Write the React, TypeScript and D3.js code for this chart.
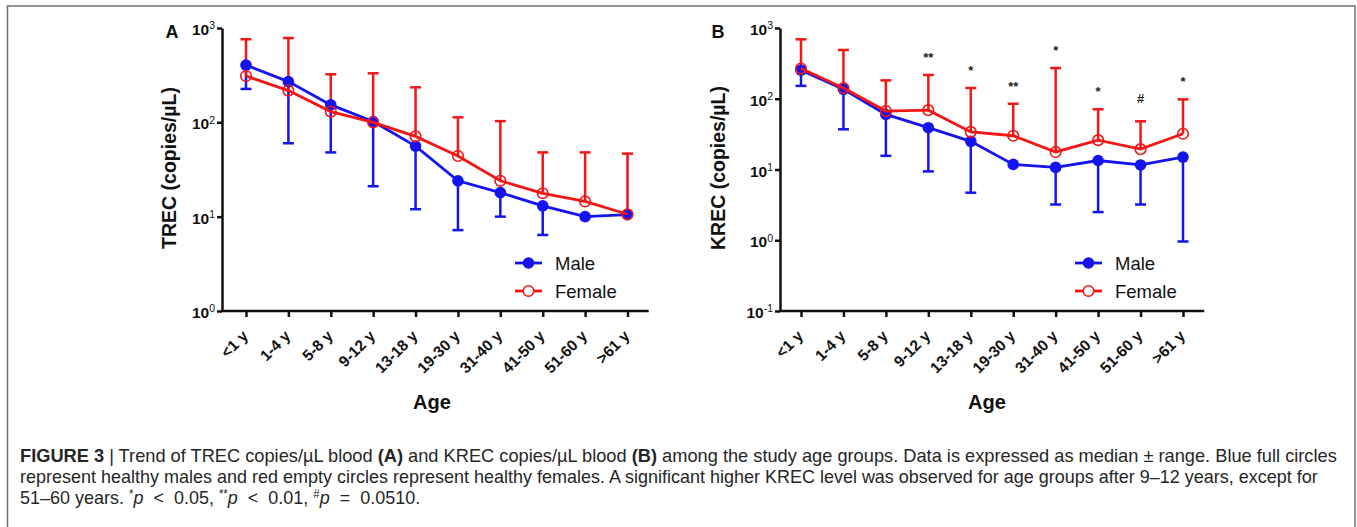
import React, { useEffect, useRef } from 'react';
import * as d3 from 'd3';

// age groups (x categories)
const ages = ['<1 y', '1-4 y', '5-8 y', '9-12 y', '13-18 y', '19-30 y', '31-40 y', '41-50 y', '51-60 y', '>61 y'];

// panel A: TREC copies/uL (median, lower range for male, upper range for female)
const trecMale = [405, 270, 153, 102, 56, 24, 18, 13, 10, 10.5];
const trecMaleMin = [226, 60, 48, 21, 12, 7.2, 10, 6.4, 10, 10.5];
const trecFemale = [310, 217, 130, 100, 71, 44, 24, 17.7, 14.5, 10.6];
const trecFemaleMax = [760, 783, 323, 331, 235, 113, 103, 48, 48, 46.6];

// panel B: KREC copies/uL
const krecMale = [253, 136, 60, 39, 25, 11.8, 10.7, 13.4, 11.6, 15];
const krecMaleMin = [152, 37, 15.6, 9.4, 4.7, 11.8, 3.2, 2.5, 3.2, 0.96];
const krecFemale = [267, 142, 67, 69, 34, 30, 17.7, 26, 19.4, 32];
const krecFemaleMax = [692, 489, 182, 217, 142, 85, 272, 71, 48, 98];
const krecSig = ['', '', '', '**', '*', '**', '*', '*', '#', '*'];

const trecTicks = [1, 10, 100, 1000];
const krecTicks = [0.1, 1, 10, 100, 1000];

// caption lines, as runs of [text, style]
const captionLines: [string, string][][] = [
    [['FIGURE 3', 'b'], [' | Trend of TREC copies/\u00b5L blood ', ''], ['(A)', 'b'],
     [' and KREC copies/\u00b5L blood ', ''], ['(B)', 'b'],
     [' among the study age groups. Data is expressed as median \u00b1 range. Blue full circles', '']],
    [['represent healthy males and red empty circles represent healthy females. A significant higher KREC level was observed for age groups after 9\u201312 years, except for', '']],
    [['51\u201360 years. ', ''], ['*', 'sup'], ['p', 'i'], ['  <  0.05, ', ''], ['**', 'sup'], ['p', 'i'],
     ['  <  0.01, ', ''], ['#', 'sup'], ['p', 'i'], ['  =  0.0510.', '']]
];

const BLUE = '#1414ee';
const RED = '#f21616';
const FONT = 'Arial, "Liberation Sans", Helvetica, sans-serif';

export default function App() {
    const svgRef = useRef<SVGSVGElement | null>(null);

    useEffect(() => {
        const svg = d3.select(svgRef.current);
        svg.selectAll('*').remove();

        // figure frame
        svg.append('path')
            .attr('d', 'M7.5,527 V6 H1355 V527')
            .attr('fill', 'none')
            .attr('stroke', '#6f6f6f')
            .attr('stroke-width', 1.5);

        const drawPanel = (cfg: any) => {
            const g = svg.append('g').style('font-family', FONT);
            const top = 28, bottom = 311;

            const x = d3.scalePoint<string>().domain(ages).range([cfg.firstTick, cfg.lastTick]);
            const y = d3.scaleLog().domain(cfg.domain).range([bottom, top]);
            const axisRight = cfg.lastTick + x.step() / 2;

            // y axis
            const yAxis = g.append('g')
                .attr('transform', `translate(${cfg.axisX},0)`)
                .call(d3.axisLeft(y).tickValues(cfg.ticks).tickSize(5).tickSizeOuter(0).tickFormat(() => ''));
            yAxis.selectAll('path, line').attr('stroke', '#111').attr('stroke-width', 2.5);
            yAxis.selectAll('.tick text').each(function (d: any) {
                const t = d3.select(this)
                    .attr('x', -7)
                    .attr('dy', '0.42em')
                    .attr('fill', '#111')
                    .style('font-size', '15.5px')
                    .style('font-weight', 'bold')
                    .style('font-family', FONT);
                t.append('tspan').text('10');
                t.append('tspan')
                    .attr('dy', '-0.55em')
                    .style('font-size', '10.5px')
                    .style('font-weight', 'normal')
                    .text(String(Math.round(Math.log10(d))));
            });

            // x axis
            const xAxis = g.append('g')
                .attr('transform', `translate(0,${bottom})`)
                .call(d3.axisBottom(x).tickSize(6).tickFormat(() => ''));
            xAxis.select('.domain').remove();
            xAxis.selectAll('line').attr('stroke', '#111').attr('stroke-width', 2.5);
            xAxis.append('line')
                .attr('x1', cfg.axisX - 1.2).attr('x2', axisRight)
                .attr('stroke', '#111').attr('stroke-width', 2.5);

            g.selectAll('.age-label')
                .data(ages)
                .enter()
                .append('text')
                .attr('class', 'age-label')
                .attr('transform', d => `translate(${(x(d) as number) + 3},337) rotate(-45)`)
                .attr('text-anchor', 'end')
                .attr('fill', '#111')
                .style('font-size', '15.5px')
                .style('font-weight', 'bold')
                .text(d => d);

            // axis titles
            g.append('text')
                .attr('transform', `translate(${cfg.titleX},168) rotate(-90)`)
                .attr('text-anchor', 'middle')
                .attr('dy', '0.35em')
                .attr('fill', '#111')
                .style('font-size', '19.5px')
                .style('font-weight', 'bold')
                .text(cfg.title);

            g.append('text')
                .attr('x', cfg.ageX)
                .attr('y', 409)
                .attr('text-anchor', 'middle')
                .attr('fill', '#111')
                .style('font-size', '20px')
                .style('font-weight', 'bold')
                .text('Age');

            g.append('text')
                .attr('x', cfg.letterX)
                .attr('y', 38)
                .attr('text-anchor', 'middle')
                .attr('fill', '#111')
                .style('font-size', '18px')
                .style('font-weight', 'bold')
                .text(cfg.letter);

            const rows = ages.map((a, i) => ({
                age: a,
                male: cfg.male[i], maleMin: cfg.maleMin[i],
                female: cfg.female[i], femaleMax: cfg.femaleMax[i],
                sig: cfg.sig ? cfg.sig[i] : ''
            }));

            // male error bars (down)
            const mBars = g.append('g').attr('stroke', BLUE).attr('stroke-width', 2.5);
            rows.filter(d => d.maleMin < d.male).forEach(d => {
                const cx = x(d.age) as number;
                mBars.append('line').attr('x1', cx).attr('x2', cx).attr('y1', y(d.male)).attr('y2', y(d.maleMin));
                mBars.append('line').attr('x1', cx - 5.5).attr('x2', cx + 5.5).attr('y1', y(d.maleMin)).attr('y2', y(d.maleMin));
            });

            // female error bars (up)
            const fBars = g.append('g').attr('stroke', RED).attr('stroke-width', 2.5);
            rows.forEach(d => {
                const cx = x(d.age) as number;
                fBars.append('line').attr('x1', cx).attr('x2', cx).attr('y1', y(d.female)).attr('y2', y(d.femaleMax));
                fBars.append('line').attr('x1', cx - 5.5).attr('x2', cx + 5.5).attr('y1', y(d.femaleMax)).attr('y2', y(d.femaleMax));
            });

            const line = (key: string) => d3.line<any>().x(d => x(d.age) as number).y(d => y(d[key]));

            g.append('path').datum(rows).attr('d', line('male'))
                .attr('fill', 'none').attr('stroke', BLUE).attr('stroke-width', 2.8);
            g.selectAll('.m-dot').data(rows).enter().append('circle')
                .attr('cx', d => x(d.age) as number).attr('cy', d => y(d.male))
                .attr('r', 5.8).attr('fill', BLUE);

            g.append('path').datum(rows).attr('d', line('female'))
                .attr('fill', 'none').attr('stroke', RED).attr('stroke-width', 2.8);
            g.selectAll('.f-dot').data(rows).enter().append('circle')
                .attr('cx', d => x(d.age) as number).attr('cy', d => y(d.female))
                .attr('r', 5.3).attr('fill', 'none').attr('stroke', RED).attr('stroke-width', 1.6);

            // significance marks
            g.selectAll('.sig').data(rows.filter(d => d.sig)).enter().append('text')
                .attr('x', d => x(d.age) as number)
                .attr('y', d => y(d.femaleMax) - (d.sig === '#' ? 18 : 13))
                .attr('text-anchor', 'middle')
                .attr('fill', '#222')
                .style('font-size', '13px')
                .style('font-weight', 'bold')
                .text(d => d.sig);

            // legend
            const leg = g.append('g');
            [{ name: 'Male', color: BLUE, filled: true, y: 263 }, { name: 'Female', color: RED, filled: false, y: 291 }]
                .forEach(s => {
                    leg.append('line').attr('x1', cfg.legX).attr('x2', cfg.legX + 27).attr('y1', s.y).attr('y2', s.y)
                        .attr('stroke', s.color).attr('stroke-width', 2.8);
                    leg.append('circle').attr('cx', cfg.legX + 13.5).attr('cy', s.y).attr('r', s.filled ? 5.8 : 5.3)
                        .attr('fill', s.filled ? s.color : 'white')
                        .attr('stroke', s.filled ? 'none' : s.color).attr('stroke-width', 1.6);
                    leg.append('text').attr('x', cfg.legX + 40).attr('y', s.y).attr('dy', '0.36em')
                        .attr('fill', '#111').style('font-size', '18.5px').text(s.name);
                });
        };

        drawPanel({
            letter: 'A', letterX: 172, axisX: 222, firstTick: 246, lastTick: 627.5, titleX: 169, ageX: 432,
            domain: [1, 1000], ticks: trecTicks, title: 'TREC (copies/\u00b5L)',
            male: trecMale, maleMin: trecMaleMin, female: trecFemale, femaleMax: trecFemaleMax, legX: 515
        });
        drawPanel({
            letter: 'B', letterX: 718, axisX: 780, firstTick: 801, lastTick: 1183, titleX: 718, ageX: 987,
            domain: [0.1, 1000], ticks: krecTicks, title: 'KREC (copies/\u00b5L)',
            male: krecMale, maleMin: krecMaleMin, female: krecFemale, femaleMax: krecFemaleMax, sig: krecSig, legX: 1075
        });

        // caption: a regular sans squeezed horizontally so it looks condensed
        const widths = [1318, 1298, null];
        let lastScale = 0.95;
        captionLines.forEach((runs, li) => {
            const t = svg.append('text')
                .attr('fill', '#262626')
                .style('font-family', '"Liberation Sans", Arial, sans-serif')
                .style('font-size', '19px')
                .style('white-space', 'pre');
            let prev = '';
            runs.forEach(([txt, st]) => {
                const sp = t.append('tspan').text(txt);
                if (st === 'b') sp.style('font-weight', 'bold');
                if (st === 'i') sp.style('font-style', 'italic');
                if (st === 'sup') sp.attr('dy', -6).style('font-size', '12px');
                else if (prev === 'sup') sp.attr('dy', 6);
                prev = st;
            });
            const len = (t.node() as SVGTextElement).getComputedTextLength();
            const w = widths[li];
            const s = w ? w / len : lastScale;
            lastScale = s;
            t.attr('transform', `translate(20,${462 + li * 21}) scale(${s},1)`);
        });
    }, []);

    return (
        <div style={{ position: 'absolute', left: 0, top: 0, width: 1357, height: 527, background: '#fff' }}>
            <svg ref={svgRef} width={1357} height={527} style={{ position: 'absolute', left: 0, top: 0 }} />
        </div>
    );
}
